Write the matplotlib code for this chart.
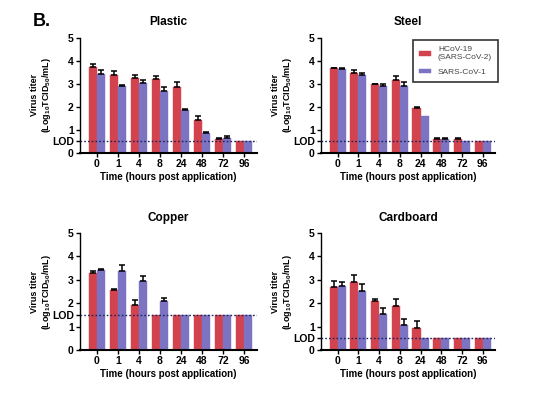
import numpy as np
import matplotlib
matplotlib.use("Agg")
import matplotlib.pyplot as plt

plt.rcParams['font.family'] = ['Liberation Sans', 'DejaVu Sans']
plt.rcParams['font.weight'] = 'bold'
plt.rcParams['mathtext.fontset'] = 'custom'
plt.rcParams['mathtext.rm'] = 'Liberation Sans:bold'
plt.rcParams['mathtext.it'] = 'Liberation Sans:bold'
plt.rcParams['mathtext.bf'] = 'Liberation Sans:bold'

# time points (hours post application)
times = ['0', '1', '4', '8', '24', '48', '72', '96']
series_names = ['HCoV-19\n(SARS-CoV-2)', 'SARS-CoV-1']

# plastic
plastic_cov2 = [3.72, 3.40, 3.25, 3.20, 2.88, 1.45, 0.60, 0.50]
plastic_cov2_err = [0.15, 0.18, 0.12, 0.15, 0.22, 0.17, 0.05, 0.0]
plastic_cov1 = [3.45, 2.92, 3.05, 2.70, 1.87, 0.85, 0.65, 0.50]
plastic_cov1_err = [0.15, 0.05, 0.10, 0.18, 0.05, 0.08, 0.08, 0.0]

# steel
steel_cov2 = [3.67, 3.47, 2.98, 3.15, 1.95, 0.60, 0.60, 0.50]
steel_cov2_err = [0.03, 0.15, 0.02, 0.20, 0.05, 0.05, 0.05, 0.0]
steel_cov1 = [3.65, 3.37, 2.92, 2.92, 1.60, 0.60, 0.50, 0.50]
steel_cov1_err = [0.05, 0.12, 0.07, 0.17, 0.0, 0.05, 0.0, 0.0]

# copper
copper_cov2 = [3.30, 2.55, 1.93, 1.50, 1.50, 1.50, 1.50, 1.50]
copper_cov2_err = [0.10, 0.08, 0.20, 0.0, 0.0, 0.0, 0.0, 0.0]
copper_cov1 = [3.42, 3.40, 2.97, 2.10, 1.50, 1.50, 1.50, 1.50]
copper_cov1_err = [0.05, 0.22, 0.18, 0.12, 0.0, 0.0, 0.0, 0.0]

# cardboard
cardboard_cov2 = [2.70, 2.90, 2.10, 1.90, 0.95, 0.50, 0.50, 0.50]
cardboard_cov2_err = [0.25, 0.30, 0.10, 0.30, 0.28, 0.0, 0.0, 0.0]
cardboard_cov1 = [2.75, 2.53, 1.55, 1.08, 0.50, 0.50, 0.50, 0.50]
cardboard_cov1_err = [0.15, 0.28, 0.27, 0.25, 0.0, 0.0, 0.0, 0.0]

lod_values = {'Plastic': 0.5, 'Steel': 0.5, 'Copper': 1.5, 'Cardboard': 0.5}

red = '#d2434e'
purple = '#7c73c2'


def draw_panel(ax, title, cov2, cov2_err, cov1, cov1_err, lod, legend=False):
    x = np.arange(len(times))
    w = 0.39
    for vals, errs, col, off, name in [(cov2, cov2_err, red, -w / 2, series_names[0]),
                                       (cov1, cov1_err, purple, w / 2, series_names[1])]:
        ax.bar(x + off, vals, width=w, color=col, edgecolor=col, linewidth=0.3,
               label=name, zorder=2)
        errs = np.array(errs)
        m = errs > 0
        ax.errorbar((x + off)[m], np.array(vals)[m],
                    yerr=[np.zeros(m.sum()), errs[m]],
                    fmt='none', ecolor='black', elinewidth=1.1, capsize=2,
                    capthick=1.1, zorder=3)
    ax.axhline(lod, color='#1c2459', linestyle=(0, (1.2, 1.5)), linewidth=1, zorder=4)
    ax.set_xlim(-0.8, 7.6)
    ax.set_ylim(0, 5)
    yt = [0, 1, 2, 3, 4, 5, lod]
    ax.set_yticks(yt)
    ax.set_yticklabels([str(v) for v in yt[:-1]] + ['LOD'])
    ax.set_xticks(x)
    ax.set_xticklabels(times)
    ax.tick_params(labelsize=7.5, width=1, length=3, pad=1.5)
    for s in ['top', 'right']:
        ax.spines[s].set_visible(False)
    ax.spines['left'].set_linewidth(1)
    ax.spines['bottom'].set_linewidth(1.5)
    ax.set_title(title, fontsize=8.5, fontweight='bold', pad=9)
    ax.set_xlabel('Time (hours post application)', fontsize=7, fontweight='bold', labelpad=2)
    ax.set_ylabel('Virus titer\n(Log$_{10}$TCID$_{50}$/mL)', fontsize=6.5,
                  fontweight='bold', labelpad=-1, linespacing=1.1)
    if legend:
        leg = ax.legend(loc='upper right', bbox_to_anchor=(1.03, 1.0),
                        frameon=True, fancybox=False, edgecolor='black',
                        handlelength=1.5, handleheight=0.5, handletextpad=0.8,
                        borderpad=0.7, borderaxespad=0.3, labelspacing=0.9,
                        prop={'size': 6, 'weight': 'normal'})
        leg.get_frame().set_linewidth(1.2)
        for t in leg.get_texts():
            t.set_color('#444444')


fig = plt.figure(figsize=(5.46, 3.93), dpi=100)
ax1 = fig.add_axes([0.1465, 0.6107, 0.324, 0.293])
ax2 = fig.add_axes([0.588, 0.6107, 0.319, 0.293])
ax3 = fig.add_axes([0.1465, 0.109, 0.324, 0.298])
ax4 = fig.add_axes([0.588, 0.109, 0.319, 0.298])

draw_panel(ax1, 'Plastic', plastic_cov2, plastic_cov2_err, plastic_cov1, plastic_cov1_err, lod_values['Plastic'])
draw_panel(ax2, 'Steel', steel_cov2, steel_cov2_err, steel_cov1, steel_cov1_err, lod_values['Steel'], legend=True)
draw_panel(ax3, 'Copper', copper_cov2, copper_cov2_err, copper_cov1, copper_cov1_err, lod_values['Copper'])
draw_panel(ax4, 'Cardboard', cardboard_cov2, cardboard_cov2_err, cardboard_cov1, cardboard_cov1_err, lod_values['Cardboard'])

fig.text(0.06, 0.945, 'B.', fontsize=13, fontweight='bold', va='center', ha='left')

fig.savefig('out.png', dpi=100)
